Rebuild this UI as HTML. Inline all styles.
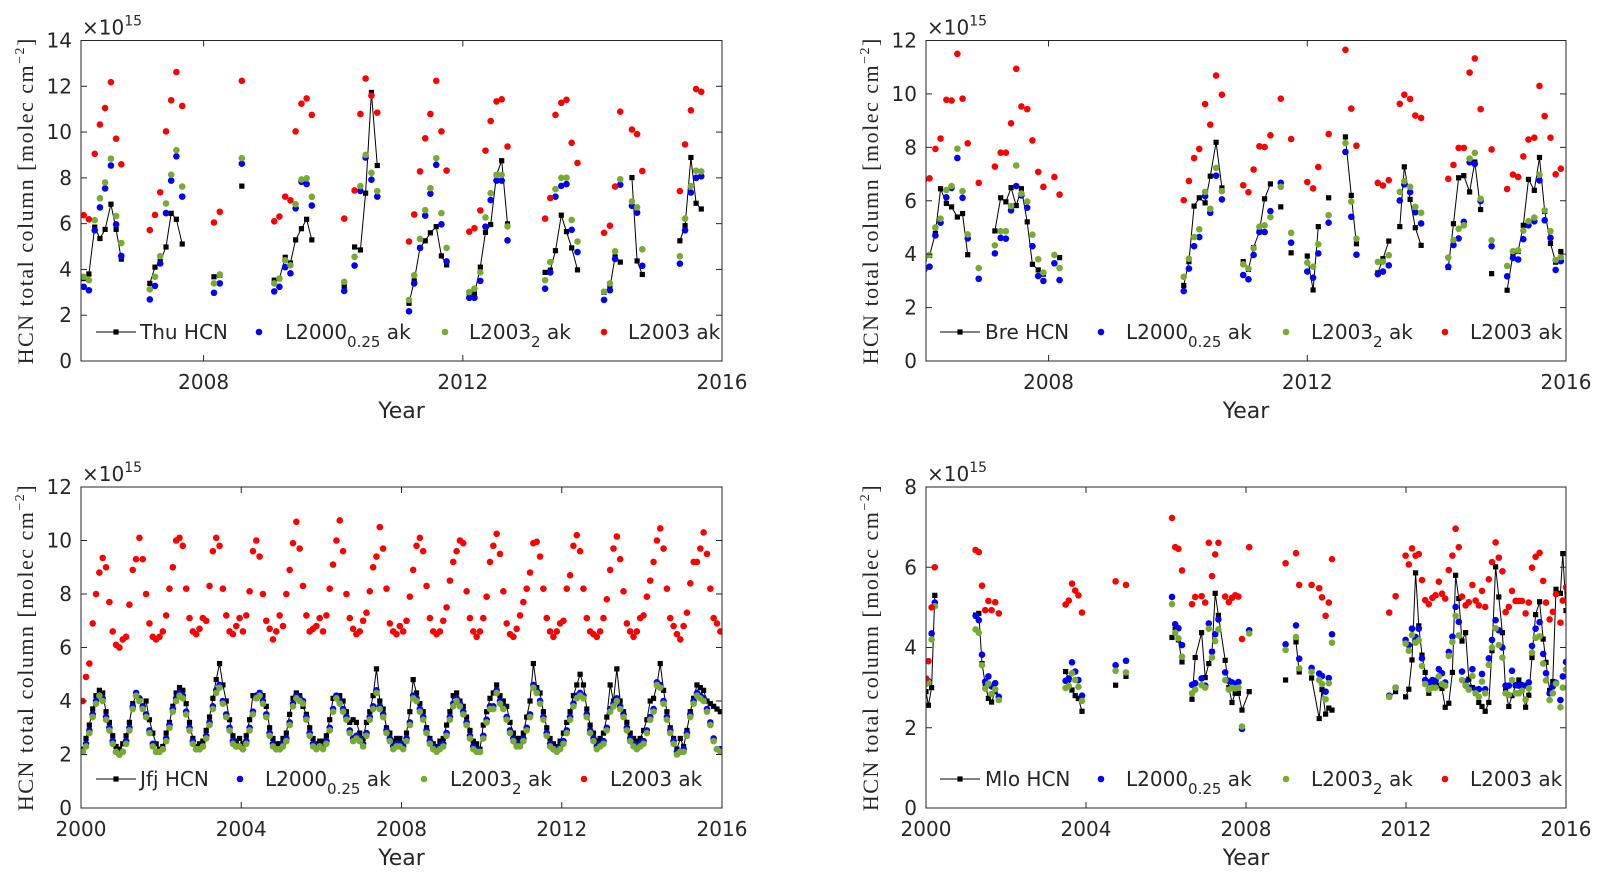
<!DOCTYPE html>
<html><head><meta charset="utf-8"><style>
html,body{margin:0;padding:0;background:#fff;}
svg{display:block;}
text{font-family:"DejaVu Sans","Liberation Sans",sans-serif;fill:#262626;}
</style></head><body>
<svg id="chart" width="1608" height="878" viewBox="0 0 1608 878" xmlns="http://www.w3.org/2000/svg"></svg>
<script>
// ---------- Thule ----------
const thuYears=[2006.15,2006.23,2006.32,2006.40,2006.48,2006.57,2006.65,2006.73,
2007.17,2007.25,2007.33,2007.42,2007.50,2007.58,2007.67,
2008.16,2008.25,2008.59,
2009.09,2009.17,2009.26,2009.34,2009.42,2009.51,2009.59,2009.67,
2010.17,2010.33,2010.42,2010.50,2010.59,2010.68,
2011.17,2011.25,2011.34,2011.42,2011.50,2011.59,2011.67,2011.75,
2012.10,2012.18,2012.27,2012.35,2012.43,2012.52,2012.60,2012.69,
2013.27,2013.35,2013.43,2013.52,2013.60,2013.68,2013.77,
2014.18,2014.27,2014.35,2014.43,2014.61,2014.69,2014.77,
2015.35,2015.43,2015.52,2015.60,2015.68];
const thuHCN=[3.6,3.8,5.85,5.35,5.75,6.85,5.75,4.45,
3.39,4.1,4.35,4.98,6.45,6.19,5.11,
3.68,3.75,7.64,
3.53,3.6,4.53,4.28,5.29,5.78,6.19,5.29,
3.27,4.98,4.85,7.33,11.73,8.54,
2.52,3.5,4.95,5.25,5.6,5.87,4.59,4.2,
2.98,2.93,4.1,5.62,5.96,8.13,8.75,5.99,
3.87,3.97,4.82,6.37,5.65,4.94,3.98,
3.0,3.2,4.55,4.32,8.01,4.37,3.78,
5.25,5.91,8.89,6.89,6.64];
const thuL2000=[3.24,3.09,5.71,6.71,7.54,8.54,5.97,4.59,
2.69,3.28,4.26,6.46,7.88,8.94,7.18,
2.98,3.39,8.62,
3.04,3.24,4.1,3.83,6.67,7.83,7.73,6.79,
3.06,4.17,7.43,8.89,7.92,7.18,
2.17,3.39,4.94,6.35,7.31,8.57,5.97,4.35,
2.76,2.76,3.5,5.87,7.03,7.88,7.88,5.27,
3.16,3.87,7.18,7.65,7.73,5.73,4.76,
2.67,3.09,4.46,7.7,6.78,6.48,4.16,
4.25,5.71,7.36,8.0,8.07];
const thuL2003b=[3.68,3.53,6.15,7.11,7.8,8.84,6.33,5.15,
3.13,3.68,4.58,6.88,8.14,9.21,7.62,
3.39,3.78,8.86,
3.39,3.6,4.4,4.18,6.85,7.93,7.98,7.17,
3.46,4.55,7.64,9.0,8.22,7.42,
2.67,3.75,5.33,6.59,7.55,8.86,6.46,4.94,
3.01,3.16,3.87,6.27,7.33,8.13,8.13,5.88,
3.53,4.32,7.51,8.0,8.01,6.16,5.22,
3.03,3.39,4.79,7.94,6.97,6.71,4.88,
4.58,6.22,7.64,8.31,8.28];
const thuL2003=[6.37,6.19,9.05,10.33,11.05,12.18,9.71,8.59,
5.72,6.38,7.37,10.03,11.39,12.62,11.14,
6.05,6.52,12.24,
6.1,6.31,7.18,7.02,10.03,11.24,11.47,10.75,
6.22,7.45,10.79,12.34,11.59,10.85,
5.22,6.4,8.28,9.73,10.79,12.24,10.03,8.32,
5.65,5.8,6.58,9.19,10.48,11.34,11.43,9.37,
6.22,7.12,10.75,11.28,11.41,9.53,8.65,
5.6,5.91,7.62,10.89,10.11,9.91,8.3,
7.42,9.46,10.95,11.88,11.76];

// ---------- Bremen ----------
const breYears=[2006.08,2006.16,2006.25,2006.33,2006.42,2006.50,2006.59,2006.67,2006.75,2006.92,
2007.17,2007.26,2007.34,2007.42,2007.50,2007.58,2007.67,2007.75,2007.84,2007.92,2008.09,2008.17,
2010.09,2010.17,2010.25,2010.33,2010.42,2010.50,2010.59,2010.68,
2011.01,2011.09,2011.17,2011.26,2011.34,2011.43,2011.59,2011.75,
2012.00,2012.09,2012.17,2012.33,2012.59,2012.68,2012.76,
2013.09,2013.17,2013.26,2013.43,2013.50,2013.59,2013.67,2013.76,
2014.18,2014.26,2014.34,2014.42,2014.51,2014.59,2014.68,2014.85,
2015.09,2015.18,2015.26,2015.34,2015.42,2015.51,2015.59,2015.67,2015.76,2015.84,2015.92];
const breHCN=[3.83,3.95,4.78,6.45,5.9,5.77,5.39,5.52,3.98,null,
4.87,6.11,5.96,6.49,5.82,6.45,5.21,3.62,3.41,3.25,null,3.87,
2.83,3.72,5.8,6.11,5.92,6.92,8.19,6.48,
3.72,3.43,4.25,4.85,6.07,6.63,5.77,4.05,
3.93,2.66,5.03,6.11,8.39,6.2,4.39,
3.3,3.83,4.49,5.03,7.27,6.05,4.99,4.33,
3.5,5.14,6.86,6.94,6.33,7.45,5.67,3.27,
2.65,4.0,4.1,5.08,6.8,6.39,7.62,5.6,4.4,3.7,4.1];
const breL2000=[3.43,3.53,4.7,5.18,6.13,6.48,7.6,6.11,4.59,3.08,
4.03,4.61,4.58,5.64,6.55,6.2,5.74,4.3,3.18,3.0,3.66,3.03,
2.62,3.46,4.3,4.64,6.17,5.55,6.94,6.05,
3.22,3.06,3.97,4.83,4.83,5.61,6.67,4.43,
3.35,3.12,4.03,5.18,7.83,5.4,3.98,
3.25,3.35,3.58,6.01,6.61,6.32,5.57,5.15,
3.53,4.34,4.59,5.21,7.44,7.38,5.99,4.3,
3.17,3.86,3.8,4.56,5.08,5.23,6.76,5.27,4.61,3.41,3.74];
const breL2003b=[3.86,3.97,5.0,5.33,6.4,6.55,7.95,6.36,4.74,3.48,
4.33,4.86,4.86,5.8,7.32,6.27,5.97,4.73,3.81,3.31,3.97,3.48,
3.15,3.83,4.64,4.93,6.33,5.7,7.23,6.36,
3.62,3.46,4.22,5.03,5.08,5.39,6.52,4.8,
3.68,3.53,4.37,5.46,8.16,5.97,4.58,
3.71,3.72,3.96,6.33,6.73,6.52,5.77,5.55,
3.87,4.53,4.95,5.08,7.58,7.79,6.07,4.52,
3.56,4.11,4.14,4.88,5.24,5.37,6.97,5.64,4.86,3.78,3.89];
const breL2003=[6.79,6.84,7.94,8.33,9.78,9.75,11.5,9.82,8.15,6.67,
7.28,7.8,7.8,8.9,10.94,9.53,9.43,8.26,7.08,6.52,6.89,6.23,
6.02,6.74,7.6,7.94,9.62,8.85,10.69,9.97,
6.58,6.32,7.17,8.04,8.01,8.45,9.82,8.31,
6.7,6.46,7.26,8.5,11.65,9.45,8.06,
6.67,6.57,6.77,9.63,9.97,9.81,9.19,9.1,
6.82,7.34,7.98,7.98,10.8,11.33,9.43,7.92,
6.44,6.98,6.89,7.66,8.29,8.36,10.3,9.17,8.36,6.99,7.2];

// ---------- Jungfraujoch (monthly, Jan 2000 .. Dec 2015) ----------
const jfjStartYear=2000;
const jfjHCN=[2.2,2.6,3.1,3.7,4.2,4.4,4.3,3.6,3.2,2.7,2.3,2.2,
2.4,2.7,3.2,3.9,4.2,4.0,3.8,4.0,3.3,2.8,2.4,2.2,
2.3,2.8,3.2,3.8,4.3,4.5,4.4,3.9,3.2,2.6,2.3,2.4,
2.5,2.9,3.4,4.1,4.8,5.4,4.6,4.0,3.3,2.7,2.5,2.6,
2.4,2.7,3.3,4.2,4.1,4.3,4.2,3.8,3.0,2.6,2.4,2.4,
2.6,2.8,3.5,4.1,4.3,4.2,3.8,3.5,3.0,2.6,2.4,2.5,
2.5,2.7,3.3,4.1,4.2,4.2,4.0,3.6,3.2,3.3,3.2,2.8,
2.6,3.2,3.6,4.2,5.2,4.0,3.7,3.0,2.8,2.5,2.6,2.6,
2.4,2.8,3.6,4.8,4.3,3.9,3.6,3.0,2.6,2.4,2.3,2.5,
2.6,3.1,3.6,4.2,4.3,4.0,3.8,3.4,2.9,2.5,2.4,2.2,
3.1,3.6,4.1,4.3,4.6,4.2,4.0,3.8,3.2,2.8,2.6,2.6,
2.8,3.4,4.0,5.4,4.5,4.3,3.6,3.0,2.6,2.4,2.3,2.5,
2.8,3.2,3.6,4.2,4.6,5.0,4.6,3.7,3.1,2.8,2.5,2.6,
2.8,3.4,4.6,4.0,5.2,4.0,3.6,3.2,2.8,2.6,2.5,2.6,
2.9,3.3,4.0,4.1,4.6,5.4,4.4,3.6,3.0,2.6,2.2,2.6,
2.3,2.9,3.6,4.1,4.6,4.5,4.4,4.0,3.9,3.8,3.7,3.6];
const jfjL2000=[2.1,2.4,2.9,3.5,4.0,4.2,4.1,3.4,3.0,2.5,2.1,2.0,
2.1,2.5,3.0,3.8,4.3,4.1,3.8,3.5,2.9,2.4,2.1,2.1,
2.2,2.6,3.1,3.7,4.1,4.3,4.2,3.6,3.0,2.5,2.2,2.2,
2.3,2.7,3.2,3.8,4.4,4.6,4.0,3.5,3.0,2.5,2.3,2.3,
2.2,2.5,3.0,3.6,4.2,4.3,4.0,3.5,2.8,2.4,2.2,2.2,
2.4,2.6,3.2,3.9,4.2,4.1,4.0,3.4,2.8,2.4,2.3,2.3,
2.3,2.5,3.0,3.7,4.2,4.0,3.7,3.4,2.9,2.6,2.7,2.6,
2.4,2.8,3.4,3.8,4.4,3.8,3.5,2.9,2.6,2.3,2.4,2.4,
2.3,2.6,3.2,4.2,4.1,3.7,3.4,2.9,2.5,2.3,2.2,2.3,
2.4,2.8,3.4,3.9,4.1,3.9,3.6,3.2,2.7,2.3,2.2,2.1,
2.7,3.3,3.8,3.8,4.4,4.0,3.8,3.4,2.9,2.6,2.4,2.4,
2.6,3.0,3.5,4.6,4.4,4.0,3.4,2.8,2.4,2.2,2.2,2.3,
2.5,2.9,3.4,3.9,4.2,4.3,4.2,3.5,2.9,2.6,2.3,2.4,
2.5,3.0,3.7,3.9,4.1,3.8,3.5,3.0,2.6,2.4,2.3,2.4,
2.5,2.9,3.4,3.7,4.7,4.6,4.0,3.4,2.9,2.5,2.1,2.1,
2.2,2.8,3.5,4.0,4.3,4.2,4.1,3.7,3.2,2.6,2.2,2.2];
const jfjL2003b=[2.1,2.3,2.8,3.4,3.9,4.2,4.0,3.3,2.9,2.4,2.1,2.0,
2.1,2.4,2.9,3.7,4.2,4.0,3.7,3.4,2.8,2.3,2.1,2.1,
2.2,2.5,3.0,3.6,4.0,4.2,4.1,3.5,2.9,2.4,2.2,2.2,
2.3,2.6,3.1,3.7,4.3,4.5,3.9,3.4,2.9,2.4,2.3,2.3,
2.2,2.4,2.9,3.5,4.1,4.2,3.9,3.4,2.7,2.3,2.2,2.2,
2.3,2.5,3.1,3.8,4.1,4.0,3.9,3.3,2.7,2.3,2.2,2.3,
2.2,2.4,2.9,3.6,4.1,3.9,3.6,3.3,2.8,2.5,2.6,2.5,
2.3,2.7,3.3,3.7,4.3,3.7,3.4,2.8,2.5,2.2,2.3,2.3,
2.2,2.5,3.1,4.1,4.0,3.6,3.3,2.8,2.4,2.2,2.1,2.2,
2.3,2.7,3.3,3.8,4.0,3.8,3.5,3.1,2.6,2.2,2.1,2.1,
2.6,3.2,3.7,3.7,4.3,3.9,3.7,3.3,2.8,2.5,2.3,2.3,
2.5,2.9,3.4,4.5,4.3,3.9,3.3,2.7,2.3,2.2,2.1,2.2,
2.4,2.8,3.3,3.8,4.1,4.2,4.1,3.4,2.8,2.5,2.2,2.3,
2.4,2.9,3.6,3.8,4.0,3.7,3.4,2.9,2.5,2.3,2.2,2.3,
2.4,2.8,3.3,3.6,4.6,4.5,3.9,3.3,2.8,2.4,2.0,2.1,
2.1,2.7,3.4,3.9,4.2,4.1,4.0,3.6,3.1,2.5,2.2,2.1];
const jfjL2003=[4.0,4.9,5.4,6.9,8.0,8.8,9.35,9.0,7.7,6.6,6.1,6.0,
6.3,6.4,7.6,8.9,9.3,10.1,9.3,8.0,6.9,6.4,6.3,6.4,
6.6,7.2,8.2,9.0,10.0,10.1,9.8,8.2,7.1,6.6,6.5,6.7,
7.1,7.0,8.3,9.6,10.1,9.8,8.2,7.2,6.6,6.5,6.8,7.1,
6.6,7.2,8.1,9.6,10.0,9.4,8.0,7.0,6.7,6.3,6.6,7.2,
6.8,8.0,8.9,9.9,10.7,9.7,8.3,7.2,6.6,6.7,6.8,7.1,
6.6,7.2,8.2,9.1,10.0,10.75,9.6,8.0,7.1,6.7,6.5,6.6,
7.0,7.3,8.1,9.0,9.4,10.5,9.7,8.2,6.9,6.6,6.5,6.8,
6.6,7.0,7.9,8.9,9.8,10.1,9.6,8.3,7.1,6.6,6.5,6.6,
7.0,7.5,8.5,9.2,9.6,10.0,9.9,8.1,7.1,6.6,6.4,6.6,
7.1,7.9,9.2,9.8,10.25,9.5,8.1,6.9,6.5,6.4,6.7,7.2,
7.7,8.2,8.8,9.9,9.95,9.4,8.2,7.1,6.6,6.4,6.6,6.9,
7.0,8.2,8.7,9.8,10.2,9.6,8.2,7.1,6.6,6.5,6.4,6.6,
7.1,7.8,8.9,9.7,10.15,9.3,8.1,6.9,6.6,6.4,6.6,7.1,
7.2,7.9,8.5,9.2,10.0,10.45,9.7,8.2,7.1,6.8,6.5,6.3,
6.8,7.3,8.4,9.2,9.2,9.7,10.3,9.5,8.2,7.1,6.9,6.6];

// ---------- Mauna Loa ----------
const mloYears=[2000.00,2000.06,2000.14,2000.22,
2001.24,2001.32,2001.40,2001.48,2001.56,2001.64,2001.73,2001.82,
2003.49,2003.57,2003.65,2003.73,2003.81,2003.90,2004.74,2005.00,
2006.15,2006.23,2006.31,2006.40,2006.65,2006.73,2006.89,2006.98,2007.07,2007.15,2007.23,2007.31,
2007.48,2007.57,2007.65,2007.73,2007.81,2007.90,2008.08,
2008.99,2009.25,2009.33,2009.64,2009.83,2009.90,2009.99,2010.07,2010.15,
2011.58,2011.74,2011.99,2012.07,2012.15,2012.24,2012.32,2012.40,2012.48,2012.57,2012.66,2012.74,2012.82,2012.90,2012.98,
2013.07,2013.16,2013.24,2013.32,2013.40,2013.49,2013.57,2013.66,2013.74,2013.82,2013.90,2013.98,
2014.07,2014.15,2014.24,2014.32,2014.41,2014.49,2014.57,2014.65,2014.74,2014.82,2014.90,2014.99,
2015.07,2015.15,2015.24,2015.34,2015.43,2015.50,2015.59,2015.67,2015.75,2015.86,2015.92,2016.00];
const mloHCN=[2.90,2.56,3.00,5.30,
4.81,4.85,3.60,3.10,2.73,2.64,2.90,2.70,
3.40,3.20,2.94,2.80,2.73,2.41,3.06,3.28,
4.25,4.45,4.19,3.64,2.71,3.75,4.37,3.25,3.60,3.90,5.35,4.80,
3.68,3.00,2.63,2.86,2.86,2.44,2.90,
3.19,4.14,3.39,3.24,2.23,2.95,2.34,2.49,2.44,
2.77,2.90,2.77,2.96,3.69,5.86,4.54,3.81,3.38,2.86,3.14,3.13,3.05,2.98,2.51,
2.61,3.38,5.80,5.22,4.16,4.37,3.21,3.00,2.86,2.63,2.53,2.41,
2.63,3.92,6.01,5.26,4.37,2.92,2.53,2.80,3.05,3.19,3.05,2.51,
2.81,3.75,4.82,5.14,4.21,3.63,2.93,3.15,5.45,5.35,6.34,4.92];
const mloL2000=[3.13,3.16,4.35,5.12,
4.79,4.68,3.82,3.15,3.28,3.03,3.11,2.77,
3.17,3.23,3.63,3.40,3.19,2.80,3.56,3.67,
5.26,4.58,4.48,4.06,3.07,3.11,3.23,3.05,4.60,3.89,4.33,4.70,
3.38,3.17,3.13,3.09,3.14,1.97,4.43,
4.08,4.55,3.72,3.49,3.35,3.29,2.90,3.24,4.33,
2.80,3.00,4.19,4.06,4.47,4.26,4.47,3.73,3.19,3.13,3.19,3.17,3.46,3.36,3.13,
3.89,4.27,5.01,4.64,3.40,3.15,3.00,3.46,2.95,2.96,3.34,2.96,
3.73,4.19,4.68,4.43,4.00,3.05,3.05,3.42,3.06,3.05,3.06,3.05,
3.13,4.04,4.47,4.63,3.84,3.36,2.86,3.03,3.12,2.69,3.28,3.64];
const mloL2003b=[3.09,3.13,4.20,5.03,
4.45,4.37,3.56,2.98,3.10,2.84,2.96,2.69,
2.99,3.04,3.36,3.19,3.02,2.67,3.42,3.38,
5.08,4.37,4.23,3.77,2.86,2.95,3.06,3.00,4.47,3.75,4.16,4.45,
3.19,2.95,3.00,2.98,3.00,2.03,4.35,
3.94,4.26,3.48,3.39,3.19,3.09,2.71,3.11,4.12,
2.77,3.00,4.10,3.92,4.31,4.12,4.18,3.54,3.09,2.95,3.00,3.00,3.28,3.09,3.05,
3.79,4.14,4.79,4.30,3.19,3.05,2.95,3.29,2.86,2.77,3.15,2.86,
3.57,4.00,4.48,4.06,3.75,2.86,2.82,3.19,2.86,2.86,2.92,2.70,
2.98,3.87,4.24,4.28,3.60,3.18,2.69,2.86,3.10,2.51,3.00,3.45];
const mloL2003=[3.23,3.66,5.00,6.00,
6.43,6.38,5.54,4.93,5.16,4.93,5.13,4.85,
5.07,5.17,5.59,5.42,5.30,4.87,5.65,5.56,
7.23,6.50,6.46,5.92,5.08,5.26,5.28,5.12,6.61,5.78,6.32,6.61,
5.27,5.13,5.24,5.30,5.27,4.21,6.50,
6.10,6.35,5.56,5.56,5.48,5.25,4.79,5.12,6.20,
4.87,5.28,6.29,6.07,6.47,6.29,6.33,5.68,5.18,5.08,5.24,5.30,5.64,5.34,5.22,
5.93,6.29,6.96,6.50,5.27,5.05,5.13,5.56,5.17,5.05,5.41,5.01,
5.70,6.13,6.62,6.24,5.90,4.88,5.01,5.41,5.16,5.16,5.16,4.85,
5.12,5.99,6.26,6.36,5.66,5.12,4.70,4.89,5.33,4.62,5.17,5.50];

const topYTicks=[0,2,4,6,8,10,12,14];
const breYTicks=[0,2,4,6,8,10,12];
const mloYTicks=[0,2,4,6,8];
const topXTicks=[2008,2012,2016];
const botXTicks=[2000,2004,2008,2012,2016];

const NS='http://www.w3.org/2000/svg';
const svg=document.getElementById('chart');
function mk(tag,attrs,parent){const e=document.createElementNS(NS,tag);for(const k in attrs)e.setAttribute(k,attrs[k]);(parent||svg).appendChild(e);return e;}

const jfjYears=[];
for(let i=0;i<jfjHCN.length;i++){jfjYears.push(jfjStartYear+(i+0.5)/12);}

const panels=[
 {id:'thu',site:'Thu',x0:81,x1:722,y0:40.5,y1:361,xd:[2006.108,2016],yd:[0,14],yt:topYTicks,xt:topXTicks,
  t:thuYears,k:thuHCN,b:thuL2000,g:thuL2003b,r:thuL2003,gap:0.12,leg:[15,59,178,204,364,388,523,547]},
 {id:'bre',site:'Bre',x0:926,x1:1566,y0:40.5,y1:361,xd:[2006.105,2016],yd:[0,12],yt:breYTicks,xt:topXTicks,
  t:breYears,k:breHCN,b:breL2000,g:breL2003b,r:breL2003,gap:0.12,leg:[14,59,175,200,360,385,519,544]},
 {id:'jfj',site:'Jfj',x0:81,x1:722,y0:487,y1:808,xd:[2000,2016],yd:[0,12],yt:breYTicks,xt:botXTicks,
  t:jfjYears,k:jfjHCN,b:jfjL2000,g:jfjL2003b,r:jfjL2003,gap:0.12,leg:[15,59,159,184,343,369,503,529]},
 {id:'mlo',site:'Mlo',x0:926,x1:1566,y0:487,y1:808,xd:[2000,2016],yd:[0,8],yt:mloYTicks,xt:botXTicks,
  t:mloYears,k:mloHCN,b:mloL2000,g:mloL2003b,r:mloL2003,gap:0.2,leg:[14,59,175,200,360,385,519,544]}
];
const COL={b:'#0000ff',g:'#77ac30',r:'#ff0000'};

panels.forEach(p=>{
 const X=v=>p.x0+(v-p.xd[0])/(p.xd[1]-p.xd[0])*(p.x1-p.x0);
 const Y=v=>p.y1-(v-p.yd[0])/(p.yd[1]-p.yd[0])*(p.y1-p.y0);
 const g=mk('g',{});
 
 
 const cp=mk('clipPath',{id:'clip-'+p.id},g);
 mk('rect',{x:p.x0,y:p.y0,width:p.x1-p.x0,height:p.y1-p.y0},cp);
 const plot=mk('g',{'clip-path':'url(#clip-'+p.id+')'},g);
 
 
 let d='';
 for(let i=0;i<p.t.length;i++){
  if(p.k[i]==null)continue;
  const prevOk=i>0&&p.k[i-1]!=null&&(p.t[i]-p.t[i-1])<p.gap;
  d+=(prevOk?'L':'M')+X(p.t[i]).toFixed(1)+' '+Y(p.k[i]).toFixed(1);
 }
 const ln=mk('path',{d:d,fill:'none',stroke:'#000','stroke-width':1},plot);
 
 
 for(let i=0;i<p.t.length;i++){
  if(p.k[i]==null)continue;
  const sq=mk('rect',{x:X(p.t[i])-2.6,y:Y(p.k[i])-2.6,width:5.2,height:5.2,fill:'#000'},plot);
  
  
 }
 ['b','g','r'].forEach(s=>{
  for(let i=0;i<p.t.length;i++){
   if(p[s][i]==null)continue;
   const c=mk('circle',{cx:X(p.t[i]),cy:Y(p[s][i]),r:3.3,fill:COL[s]},plot);
   
   
  }
 });
 const fr=mk('rect',{x:p.x0,y:p.y0,width:p.x1-p.x0,height:p.y1-p.y0,fill:'none',stroke:'#262626','stroke-width':1},g);
 
 
 p.yt.forEach(v=>{
  const y=Y(v);
  mk('line',{x1:p.x0,x2:p.x0+6,y1:y,y2:y,stroke:'#262626'},g);
  mk('line',{x1:p.x1,x2:p.x1-6,y1:y,y2:y,stroke:'#262626'},g);
  const t=mk('text',{x:p.x0-9,y:y+7,'text-anchor':'end','font-size':20},g);
  t.textContent=v;
  
  
 });
 p.xt.forEach(v=>{
  const x=X(v);
  mk('line',{x1:x,x2:x,y1:p.y1,y2:p.y1-6,stroke:'#262626'},g);
  mk('line',{x1:x,x2:x,y1:p.y0,y2:p.y0+6,stroke:'#262626'},g);
  const t=mk('text',{x:x,y:p.y1+28,'text-anchor':'middle','font-size':20},g);
  t.textContent=v;
  
  
 });
 const ex=mk('text',{x:p.x0+1,y:p.y0-6,'font-size':20},g);
 ex.innerHTML='×10<tspan font-size="14" dy="-9">15</tspan>';
 
 
 const xl=mk('text',{x:(p.x0+p.x1)/2,y:p.y1+57,'text-anchor':'middle','font-size':22},g);
 xl.textContent='Year';
 
 
 const cy=(p.y0+p.y1)/2, cx=p.x0-56;
 const yl=mk('text',{x:cx,y:cy,'text-anchor':'middle','font-size':22,style:"font-family:'Liberation Serif','DejaVu Serif',serif;letter-spacing:1.5px",transform:'rotate(-90 '+cx+' '+cy+') translate(0 8)'},g);
 yl.innerHTML='HCN total column [molec cm<tspan font-size="14" dy="-9">−2</tspan><tspan dy="9">]</tspan>';
 
 
 const L=p.leg, ly=p.y1-29;
 const lg=mk('g',{},g);
 
 
 mk('line',{x1:p.x0+L[0],x2:p.x0+L[0]+40,y1:ly,y2:ly,stroke:'#000'},lg);
 mk('rect',{x:p.x0+L[0]+17.4,y:ly-2.6,width:5.2,height:5.2,fill:'#000'},lg);
 const t1=mk('text',{x:p.x0+L[1],y:ly+7,'font-size':20},lg);
 t1.textContent=p.site+' HCN';
 
 
 mk('circle',{cx:p.x0+L[2],cy:ly,r:3.3,fill:COL.b},lg);
 const t2=mk('text',{x:p.x0+L[3],y:ly+7,'font-size':20},lg);
 t2.innerHTML='L2000<tspan font-size="15" dy="8">0.25</tspan><tspan dy="-8"> ak</tspan>';
 
 
 mk('circle',{cx:p.x0+L[4],cy:ly,r:3.3,fill:COL.g},lg);
 const t3=mk('text',{x:p.x0+L[5],y:ly+7,'font-size':20},lg);
 t3.innerHTML='L2003<tspan font-size="15" dy="8">2</tspan><tspan dy="-8"> ak</tspan>';
 
 
 mk('circle',{cx:p.x0+L[6],cy:ly,r:3.3,fill:COL.r},lg);
 const t4=mk('text',{x:p.x0+L[7],y:ly+7,'font-size':20},lg);
 t4.textContent='L2003 ak';
 
 
});
</script>
</body></html>
